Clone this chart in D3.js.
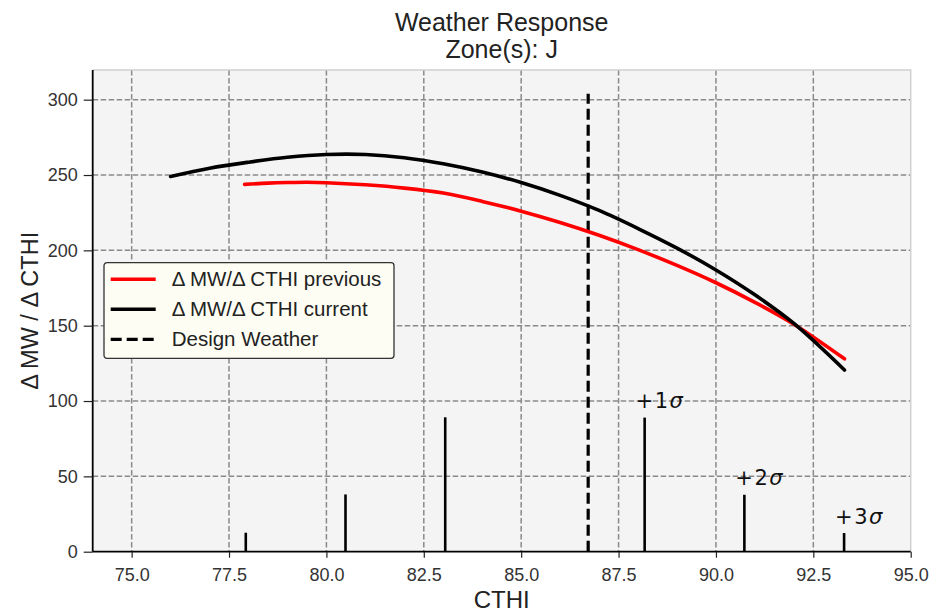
<!DOCTYPE html>
<html>
<head>
<meta charset="utf-8">
<script src="https://cdn.jsdelivr.net/npm/d3@7"></script>
<style>
  body { margin: 0; background: #fff; }
  svg { font-family: "Liberation Sans", Arial, sans-serif; }
</style>
</head>
<body>
<div id="chart"></div>
<script>
// values
var currentX = [76, 77, 78, 79, 80, 81, 82, 83, 84, 85, 86, 87, 88, 89, 90, 91, 92, 93.3];
var currentY = [249, 254.5, 258.5, 261.8, 263.6, 263.6, 261.5, 257.5, 252, 245, 236.5, 226.5, 214.5, 201.5, 187, 170.5, 151.5, 120.6];

var previousX = [77.9, 78.5, 79, 79.5, 80, 81, 82, 83, 84, 85, 86, 87, 88, 89, 90, 91, 92, 93.3];
var previousY = [243.8, 244.6, 245, 245.2, 244.9, 243.5, 241.3, 238, 232.5, 226, 218.5, 210, 200.5, 190, 178.5, 165.5, 151, 128];

var designX = 86.72;
var designTop = 304;

var stemX = [77.93, 80.49, 83.05, 88.17, 90.73, 93.29];
var stemH = [12.6, 38, 89.2, 89, 37.8, 12.4];
var sigmaText = ["", "", "", "+1", "+2", "+3"];

var xTicks = [75, 77.5, 80, 82.5, 85, 87.5, 90, 92.5, 95];
var yTicks = [0, 50, 100, 150, 200, 250, 300];

var legendItems = ["\u0394 MW/\u0394 CTHI previous", "\u0394 MW/\u0394 CTHI current", "Design Weather"];

var W = 932, H = 612;
var margin = { top: 70, right: 21.3, bottom: 60.3, left: 92.7 };
var iw = W - margin.left - margin.right;
var ih = H - margin.top - margin.bottom;

var svg = d3.select("#chart").append("svg")
    .attr("width", W)
    .attr("height", H);

var x = d3.scaleLinear().domain([74, 95]).range([0, iw]);
var y = d3.scaleLinear().domain([0, 319.7]).range([ih, 0]);

var g = svg.append("g").attr("transform", "translate(" + margin.left + "," + margin.top + ")");

// plot background
g.append("rect").attr("width", iw).attr("height", ih).attr("fill", "#f4f4f4");

// grid
g.selectAll(".gx").data(xTicks.slice(0, -1)).enter().append("line")
    .attr("x1", function (d) { return x(d); }).attr("x2", function (d) { return x(d); })
    .attr("y1", 0).attr("y2", ih)
    .attr("stroke", "#8a8a8a").attr("stroke-width", 1.5).attr("stroke-dasharray", "5.5,2.5");
g.selectAll(".gy").data(yTicks.slice(1)).enter().append("line")
    .attr("y1", function (d) { return y(d); }).attr("y2", function (d) { return y(d); })
    .attr("x1", 0).attr("x2", iw)
    .attr("stroke", "#8a8a8a").attr("stroke-width", 1.5).attr("stroke-dasharray", "5.5,2.5");

// top / right frame
g.append("path").attr("d", "M0,0H" + iw + "V" + ih)
    .attr("fill", "none").attr("stroke", "#d0d0d0").attr("stroke-width", 1.5);

// stems
g.selectAll(".stem").data(stemX).enter().append("line")
    .attr("x1", function (d) { return x(d); }).attr("x2", function (d) { return x(d); })
    .attr("y1", y(0)).attr("y2", function (d, i) { return y(stemH[i]); })
    .attr("stroke", "#000").attr("stroke-width", 2.6);

// sigma labels
var lab = g.selectAll(".sig").data(stemX.filter(function (d, i) { return sigmaText[i] != ""; })).enter().append("text")
    .attr("x", function (d) { return x(d) - 9; })
    .attr("y", function (d) { var i = stemX.indexOf(d); return y(stemH[i] + 6.2); })
    .style("font-family", "DejaVu Sans")
    .style("font-size", "21px")
    .style("letter-spacing", "1.5px")
    .attr("fill", "#111");
lab.append("tspan").text(function (d) { return sigmaText[stemX.indexOf(d)]; });
lab.append("tspan").style("font-style", "italic").text("\u03c3");

// design weather line
g.append("line")
    .attr("x1", x(designX)).attr("x2", x(designX))
    .attr("y1", y(0)).attr("y2", y(designTop))
    .attr("stroke", "#000").attr("stroke-width", 3.2).attr("stroke-dasharray", "11,5");

var line = d3.line()
    .x(function (d) { return x(d[0]); })
    .y(function (d) { return y(d[1]); })
    .curve(d3.curveCatmullRom.alpha(0.5));

g.append("path").datum(previousX.map(function (d, i) { return [d, previousY[i]]; }))
    .attr("d", line).attr("fill", "none").attr("stroke", "#ff0000")
    .attr("stroke-width", 3.6).attr("stroke-linecap", "round");
g.append("path").datum(currentX.map(function (d, i) { return [d, currentY[i]]; }))
    .attr("d", line).attr("fill", "none").attr("stroke", "#000")
    .attr("stroke-width", 3.6).attr("stroke-linecap", "round");

// axes
var xAxis = g.append("g").attr("transform", "translate(0," + ih + ")")
    .call(d3.axisBottom(x).tickValues(xTicks).tickFormat(d3.format(".1f")).tickSize(6).tickPadding(11));
var yAxis = g.append("g")
    .call(d3.axisLeft(y).tickValues(yTicks).tickSize(9).tickPadding(6));
[xAxis, yAxis].forEach(function (a) {
    a.select(".domain").attr("stroke", "#000").attr("stroke-width", 1.8);
    a.selectAll(".tick line").attr("stroke", "#222").attr("stroke-width", 1.2);
    a.selectAll(".tick text").style("font-size", "18px").style("font-family", "Liberation Sans").attr("fill", "#333");
});
xAxis.select(".domain").attr("d", "M0,0H" + iw);
yAxis.select(".domain").attr("d", "M0," + ih + "V0");

// titles
svg.append("text").attr("x", margin.left + iw / 2).attr("y", 31)
    .attr("text-anchor", "middle").style("font-size", "25px").attr("fill", "#222")
    .text("Weather Response");
svg.append("text").attr("x", margin.left + iw / 2).attr("y", 58)
    .attr("text-anchor", "middle").style("font-size", "25px").attr("fill", "#222")
    .text("Zone(s): J");
svg.append("text").attr("x", margin.left + iw / 2).attr("y", 608)
    .attr("text-anchor", "middle").style("font-size", "24px").attr("fill", "#222")
    .text("CTHI");
svg.append("text").attr("transform", "translate(38," + (margin.top + ih / 2) + ") rotate(-90)")
    .attr("text-anchor", "middle").style("font-size", "23.5px").attr("fill", "#222")
    .text("\u0394 MW / \u0394 CTHI");

// legend
var leg = svg.append("g").attr("transform", "translate(104,262.7)");
leg.append("rect").attr("width", 290).attr("height", 95.6).attr("rx", 3)
    .attr("fill", "#fdfdf3").attr("stroke", "#333").attr("stroke-width", 1.3);
var legColor = ["#ff0000", "#000", "#000"];
var legDash = [null, null, "11,5"];
leg.selectAll(".li").data(legendItems).enter().append("line")
    .attr("x1", 6.7).attr("x2", 51.7)
    .attr("y1", function (d, i) { return 16.6 + i * 30; }).attr("y2", function (d, i) { return 16.6 + i * 30; })
    .attr("stroke", function (d, i) { return legColor[i]; })
    .attr("stroke-width", function (d, i) { return i == 2 ? 3.2 : 3.6; })
    .attr("stroke-dasharray", function (d, i) { return legDash[i]; });
leg.selectAll(".lt").data(legendItems).enter().append("text")
    .attr("x", 67.7).attr("y", function (d, i) { return 16.6 + i * 30 + 7; })
    .style("font-size", "20.5px").attr("fill", "#222")
    .text(function (d) { return d; });
</script>
</body>
</html>
